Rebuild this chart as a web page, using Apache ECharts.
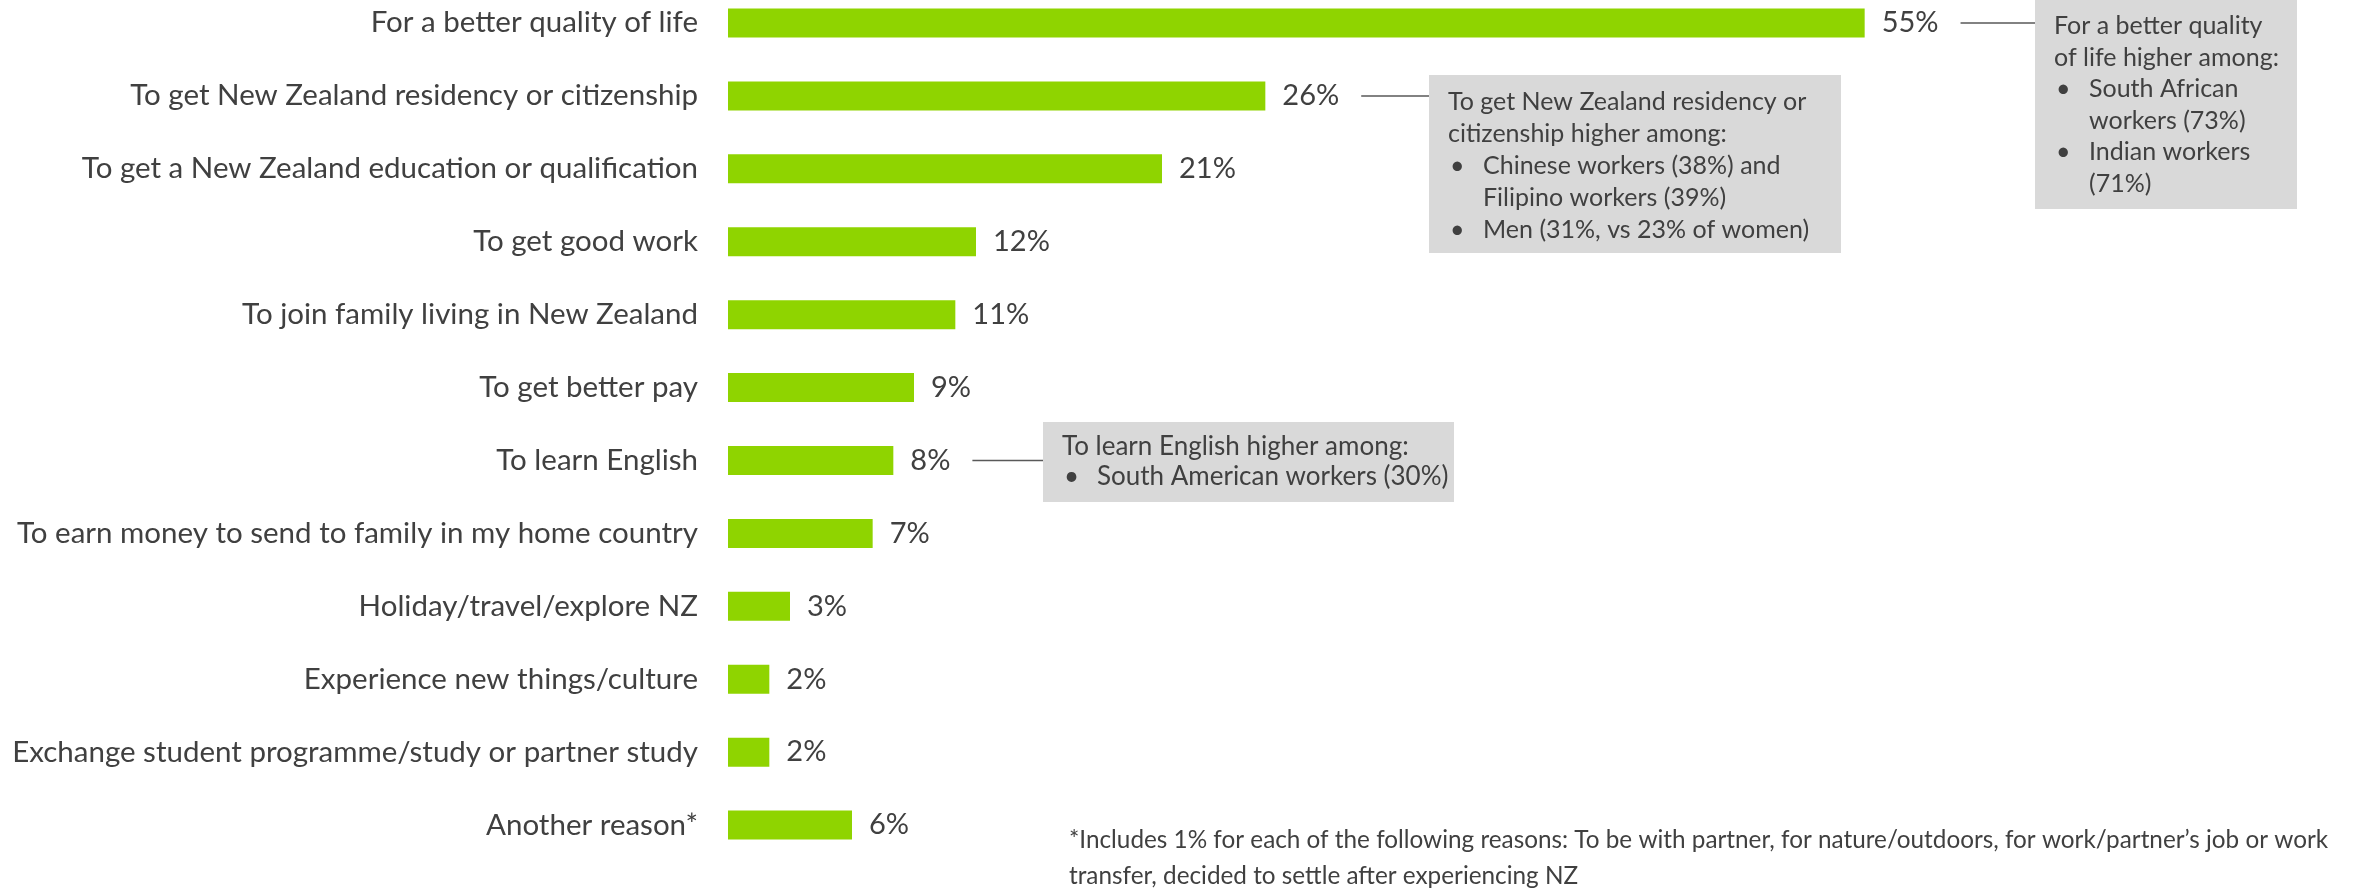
<!DOCTYPE html>
<html>
<head>
<meta charset="utf-8">
<script src="https://cdn.jsdelivr.net/npm/echarts@6/dist/echarts.min.js"></script>
<style>
  html, body { margin: 0; padding: 0; background: #ffffff; }
  #chart { width: 2374px; height: 889px; }
</style>
</head>
<body>
<div id="chart"></div>
<script>
// Reasons for coming to New Zealand (% of workers)
const categories = [
  'For a better quality of life',
  'To get New Zealand residency or citizenship',
  'To get a New Zealand education or qualification',
  'To get good work',
  'To join family living in New Zealand',
  'To get better pay',
  'To learn English',
  'To earn money to send to family in my home country',
  'Holiday/travel/explore NZ',
  'Experience new things/culture',
  'Exchange student programme/study or partner study',
  'Another reason*'
];
const values = [55, 26, 21, 12, 11, 9, 8, 7, 3, 2, 2, 6];

// Call-out notes (lines starting with '• ' are bullets, lines starting with '  ' continue a bullet)
const noteQuality = ['For a better quality', 'of life higher among:', '• South African', '  workers (73%)', '• Indian workers', '  (71%)'];
const noteResidency = ['To get New Zealand residency or', 'citizenship higher among:', '• Chinese workers (38%) and', '  Filipino workers (39%)', '• Men (31%, vs 23% of women)'];
const noteEnglish = ['To learn English higher among:', '• South American workers (30%)'];

const footnote = [
  '*Includes 1% for each of the following reasons: To be with partner, for nature/outdoors, for work/partner\u2019s job or work',
  'transfer, decided to settle after experiencing NZ'
];

const FONT = 'Lato, "Open Sans", sans-serif';
const TEXT = '#404040';
const BAR = '#8fd400';
const LABEL_SIZE = 29.5;
const VALUE_SIZE = 29;
const NOTE_SIZE = 25;

const chart = echarts.init(document.getElementById('chart'), null, { renderer: 'canvas' });

chart.setOption({
  backgroundColor: '#ffffff',
  animation: false,
  grid: {
    left: 728, top: -13.5, width: 1240, height: 875,
    containLabel: false, outerBoundsMode: 'none'
  },
  xAxis: {
    type: 'value', min: 0, max: 60,
    show: false
  },
  yAxis: {
    type: 'category',
    data: categories,
    inverse: true,
    axisLine: { show: false },
    axisTick: { show: false },
    axisLabel: { color: TEXT, fontFamily: FONT, fontSize: LABEL_SIZE, margin: 30 }
  },
  series: [{
    type: 'bar',
    data: values,
    barWidth: 29,
    itemStyle: { color: BAR },
    label: {
      show: true, position: 'right', distance: 17,
      formatter: '{c}%',
      color: TEXT, fontFamily: FONT, fontSize: VALUE_SIZE
    }
  }]
});

// Width of a value label, so connector lines can start just after it
const measureCtx = document.createElement('canvas').getContext('2d');
measureCtx.font = VALUE_SIZE + 'px ' + FONT;
function labelWidth(v) { return measureCtx.measureText(v + '%').width; }

function noteBox(box, lines, lineGap, firstY, size) {
  const children = [{
    type: 'rect',
    shape: { x: 0, y: 0, width: box.w, height: box.h },
    style: { fill: '#d9d9d9' }
  }];
  lines.forEach(function (ln, i) {
    const y = firstY + i * lineGap;
    let x = 19, txt = ln;
    if (ln.indexOf('• ') === 0) {
      children.push({ type: 'text', x: 21, y: y, style: { text: '\u2022', fill: TEXT, font: size + 'px ' + FONT, verticalAlign: 'middle' } });
      x = 54; txt = ln.slice(2);
    } else if (ln.indexOf('  ') === 0) {
      x = 54; txt = ln.slice(2);
    }
    children.push({ type: 'text', x: x, y: y, style: { text: txt, fill: TEXT, font: size + 'px ' + FONT, verticalAlign: 'middle' } });
  });
  return { type: 'group', x: box.x, y: box.y, children: children };
}

function connector(idx, boxX) {
  const p = chart.convertToPixel({ gridIndex: 0 }, [values[idx], idx]);
  const x1 = p[0] + 17 + labelWidth(values[idx]) + 22;
  return {
    type: 'line',
    shape: { x1: x1, y1: p[1], x2: boxX, y2: p[1] },
    style: { stroke: '#595959', lineWidth: 1.5 }
  };
}

const boxQuality = { x: 2035, y: 0, w: 262, h: 209 };
const boxResidency = { x: 1429, y: 75, w: 412, h: 178 };
const boxEnglish = { x: 1043, y: 422, w: 411, h: 80 };

chart.setOption({
  graphic: [
    noteBox(boxQuality, noteQuality, 31.6, 26, NOTE_SIZE),
    noteBox(boxResidency, noteResidency, 32, 27, NOTE_SIZE),
    noteBox(boxEnglish, noteEnglish, 30, 25, 26),
    connector(0, boxQuality.x),
    connector(1, boxResidency.x),
    connector(6, boxEnglish.x),
    {
      type: 'text', x: 1069, y: 840,
      style: { text: footnote[0], fill: TEXT, font: '24.3px ' + FONT, verticalAlign: 'middle' }
    },
    {
      type: 'text', x: 1069, y: 876,
      style: { text: footnote[1], fill: TEXT, font: '24.3px ' + FONT, verticalAlign: 'middle' }
    }
  ]
});
</script>
</body>
</html>
